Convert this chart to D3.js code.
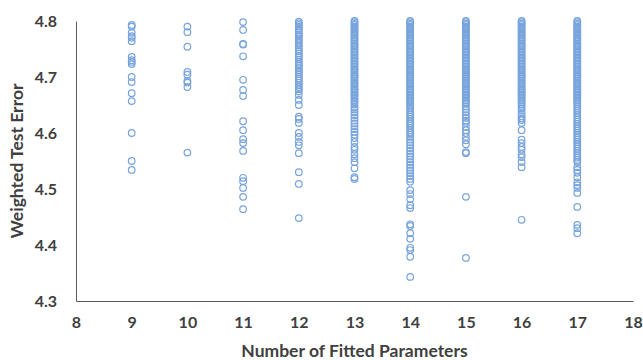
<!DOCTYPE html>
<html>
<head>
<meta charset="utf-8">
<script src="https://cdn.jsdelivr.net/npm/d3@7/dist/d3.min.js"></script>
<style>
  body { margin: 0; background: #fff; }
  svg text { font-family: Lato, "Open Sans", sans-serif; font-weight: bold; fill: #404040; }
</style>
</head>
<body>
<div id="chart"></div>
<script>
// weighted test error for each model, grouped by number of fitted parameters
const params9 = [4.793, 4.790, 4.779, 4.773, 4.770, 4.764, 4.736, 4.730, 4.727, 4.723, 4.700, 4.691, 4.671, 4.657, 4.600, 4.550, 4.534];
const params10 = [4.790, 4.780, 4.754, 4.709, 4.704, 4.693, 4.690, 4.682, 4.565];
const params11 = [4.798, 4.784, 4.759, 4.758, 4.737, 4.695, 4.677, 4.666, 4.621, 4.605, 4.589, 4.582, 4.568, 4.520, 4.514, 4.502, 4.486, 4.464];
const params12 = [4.799, 4.796, 4.793, 4.790, 4.786, 4.783, 4.779, 4.775, 4.772, 4.768, 4.765, 4.761, 4.757, 4.753, 4.749, 4.746, 4.742, 4.738,
  4.735, 4.731, 4.727, 4.723, 4.720, 4.716, 4.712, 4.709, 4.705, 4.701, 4.697, 4.694, 4.690, 4.686, 4.682, 4.678, 4.674, 4.668,
  4.659, 4.650, 4.629, 4.625, 4.618, 4.600, 4.593, 4.584, 4.578, 4.564, 4.530, 4.509, 4.448];
const params13 = [4.800, 4.798, 4.795, 4.793, 4.790, 4.787, 4.785, 4.782, 4.779, 4.777, 4.774, 4.771, 4.768, 4.766, 4.763, 4.760, 4.757,
  4.755, 4.752, 4.749, 4.746, 4.744, 4.741, 4.738, 4.735, 4.733, 4.730, 4.727, 4.724, 4.722, 4.719, 4.716, 4.713, 4.711, 4.708,
  4.705, 4.702, 4.700, 4.697, 4.694, 4.691, 4.689, 4.686, 4.683, 4.680, 4.678, 4.675, 4.672, 4.669, 4.667, 4.664, 4.661, 4.658,
  4.655, 4.651, 4.646, 4.642, 4.637, 4.632, 4.627, 4.622, 4.617, 4.612, 4.607, 4.602, 4.597,
  4.591, 4.584, 4.575, 4.570, 4.562, 4.555, 4.548, 4.537, 4.521, 4.518];
const params14 = [4.800, 4.798, 4.795, 4.793, 4.790, 4.787, 4.785, 4.782, 4.779, 4.777, 4.774, 4.771, 4.768, 4.766, 4.763, 4.760, 4.757,
  4.755, 4.752, 4.749, 4.746, 4.744, 4.741, 4.738, 4.735, 4.733, 4.730, 4.727, 4.724, 4.722, 4.719, 4.716, 4.713, 4.711, 4.708,
  4.705, 4.702, 4.700, 4.697, 4.694, 4.691, 4.689, 4.686, 4.683, 4.680, 4.678, 4.675, 4.672, 4.669, 4.667, 4.664, 4.661, 4.658,
  4.655, 4.652, 4.649, 4.645, 4.641, 4.637, 4.633, 4.629, 4.625, 4.621, 4.617, 4.613, 4.609, 4.605, 4.601, 4.597, 4.593,
  4.588, 4.583, 4.578, 4.573, 4.568, 4.563, 4.558, 4.553, 4.548, 4.543, 4.538, 4.533, 4.528, 4.523, 4.518, 4.513,
  4.498, 4.491, 4.482, 4.471, 4.466, 4.437, 4.434, 4.421, 4.411, 4.395, 4.391, 4.379, 4.343];
const params15 = [4.800, 4.798, 4.795, 4.793, 4.790, 4.787, 4.785, 4.782, 4.779, 4.777, 4.774, 4.771, 4.768, 4.766, 4.763, 4.760, 4.757,
  4.755, 4.752, 4.749, 4.746, 4.744, 4.741, 4.738, 4.735, 4.733, 4.730, 4.727, 4.724, 4.722, 4.719, 4.716, 4.713, 4.711, 4.708,
  4.705, 4.702, 4.700, 4.697, 4.694, 4.691, 4.689, 4.686, 4.683, 4.680, 4.678, 4.675, 4.672, 4.669, 4.667, 4.664, 4.661, 4.658,
  4.655, 4.652, 4.647, 4.642, 4.637, 4.632, 4.627, 4.622, 4.618,
  4.611, 4.605, 4.600, 4.593, 4.587, 4.580, 4.566, 4.564, 4.486, 4.377];
const params16 = [4.800, 4.798, 4.795, 4.793, 4.790, 4.787, 4.785, 4.782, 4.779, 4.777, 4.774, 4.771, 4.768, 4.766, 4.763, 4.760, 4.757,
  4.755, 4.752, 4.749, 4.746, 4.744, 4.741, 4.738, 4.735, 4.733, 4.730, 4.727, 4.724, 4.722, 4.719, 4.716, 4.713, 4.711, 4.708,
  4.705, 4.702, 4.700, 4.697, 4.694, 4.691, 4.689, 4.686, 4.683, 4.680, 4.678, 4.675, 4.672, 4.669, 4.667, 4.664, 4.661, 4.658,
  4.655, 4.652, 4.648, 4.644, 4.640, 4.635, 4.630, 4.626, 4.623,
  4.618, 4.605, 4.588, 4.582, 4.575, 4.570, 4.562, 4.557, 4.548, 4.539, 4.445];
const params17 = [4.800, 4.798, 4.795, 4.793, 4.790, 4.787, 4.785, 4.782, 4.779, 4.777, 4.774, 4.771, 4.768, 4.766, 4.763, 4.760, 4.757,
  4.755, 4.752, 4.749, 4.746, 4.744, 4.741, 4.738, 4.735, 4.733, 4.730, 4.727, 4.724, 4.722, 4.719, 4.716, 4.713, 4.711, 4.708,
  4.705, 4.702, 4.700, 4.697, 4.694, 4.691, 4.689, 4.686, 4.683, 4.680, 4.678, 4.675, 4.672, 4.669, 4.667, 4.664, 4.661, 4.658,
  4.655, 4.652, 4.648, 4.644, 4.640, 4.636, 4.632, 4.628, 4.624, 4.620, 4.616, 4.612, 4.608, 4.604, 4.600, 4.596, 4.592,
  4.588, 4.584, 4.580, 4.576, 4.572, 4.568, 4.564, 4.560, 4.556, 4.552, 4.548,
  4.539, 4.534, 4.529, 4.521, 4.512, 4.507, 4.502, 4.493, 4.468, 4.436, 4.430, 4.421];

const groups = [
  {k: 9, values: params9}, {k: 10, values: params10}, {k: 11, values: params11},
  {k: 12, values: params12}, {k: 13, values: params13}, {k: 14, values: params14},
  {k: 15, values: params15}, {k: 16, values: params16}, {k: 17, values: params17}
];
const xTicks = [8, 9, 10, 11, 12, 13, 14, 15, 16, 17, 18];
const yTicks = [4.3, 4.4, 4.5, 4.6, 4.7, 4.8];

const width = 643, height = 360;
const margin = {top: 21, right: 10, bottom: 59, left: 76};

const svg = d3.select('#chart')
  .append('svg')
  .attr('width', width)
  .attr('height', height);

const x = d3.scaleLinear().domain([8, 18]).range([margin.left, 633]);
const y = d3.scaleLinear().domain([4.3, 4.8]).range([height - margin.bottom, margin.top]);

// axes: plain lines, no tick marks
const xAxis = svg.append('g')
  .attr('transform', `translate(0,${y(4.3)})`)
  .call(d3.axisBottom(x).tickValues(xTicks).tickSize(0).tickPadding(16).tickFormat(d3.format('d')));
const yAxis = svg.append('g')
  .attr('transform', `translate(${x(8)},0)`)
  .call(d3.axisLeft(y).tickValues(yTicks).tickSize(0).tickPadding(19).tickFormat(d3.format('.1f')));

[xAxis, yAxis].forEach(g => {
  g.select('.domain').attr('stroke', '#595959').attr('stroke-width', 1);
  g.selectAll('text').style('font-size', '16px').attr('fill', '#404040');
});

const points = groups.flatMap(g => g.values.map(v => ({k: g.k, v})));

svg.append('g')
  .selectAll('circle')
  .data(points)
  .join('circle')
  .attr('cx', d => x(d.k))
  .attr('cy', d => y(d.v))
  .attr('r', 3.3)
  .attr('fill', 'none')
  .attr('stroke', '#78a4dd')
  .attr('stroke-width', 1.2);

svg.append('text')
  .attr('x', (x(8) + x(18)) / 2)
  .attr('y', 357)
  .attr('text-anchor', 'middle')
  .style('font-size', '17.5px')
  .text('Number of Fitted Parameters');

svg.append('text')
  .attr('transform', `translate(23,${(y(4.3) + y(4.8)) / 2}) rotate(-90)`)
  .attr('text-anchor', 'middle')
  .style('font-size', '17.5px')
  .text('Weighted Test Error');
</script>
</body>
</html>
